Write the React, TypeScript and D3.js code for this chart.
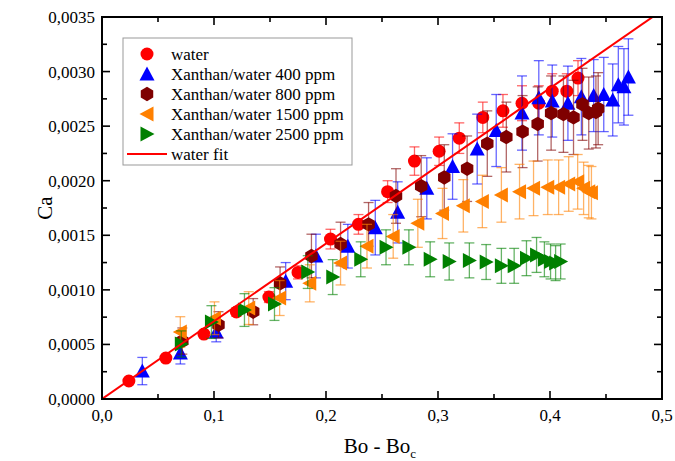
import React from 'react';
import * as d3 from 'd3';

// Ca vs Bo - Bo_c, water and xanthan solutions
const waterX = [0.024, 0.057, 0.091, 0.12, 0.149, 0.175, 0.204, 0.229, 0.255, 0.279, 0.301, 0.319, 0.34, 0.358, 0.375, 0.39, 0.402, 0.415, 0.425];
const waterY = [0.000165, 0.000375, 0.000595, 0.000797, 0.000934, 0.00116, 0.001465, 0.0016, 0.0019, 0.00218, 0.00227, 0.00239, 0.00258, 0.00264, 0.00271, 0.00271, 0.00282, 0.00282, 0.00294];
const waterErr = [0.00002, 0.00002, 0.00003, 0.00004, 0.00005, 0.00006, 0.00009, 0.00009, 0.0001, 0.00013, 0.00013, 0.00014, 0.00014, 0.00015, 0.00016, 0.00016, 0.00016, 0.00016, 0.00016];

const x400 = [0.036, 0.07, 0.102, 0.164, 0.191, 0.2195, 0.244, 0.264, 0.29, 0.313, 0.335, 0.352, 0.375, 0.39, 0.402, 0.416, 0.428, 0.439, 0.448, 0.456, 0.461, 0.466, 0.47];
const y400 = [0.000256, 0.000421, 0.000614, 0.00108, 0.00131, 0.0014, 0.00157, 0.00171, 0.00193, 0.00213, 0.00229, 0.00246, 0.00262, 0.00276, 0.00273, 0.00271, 0.00277, 0.00278, 0.00279, 0.00274, 0.00288, 0.00286, 0.00295];
const err400 = [0.000125, 0.0001, 0.00009, 0.00017, 0.0002, 0.0002, 0.00025, 0.00028, 0.00028, 0.0003, 0.00032, 0.00033, 0.00034, 0.00034, 0.00033, 0.00034, 0.00035, 0.00033, 0.00034, 0.00033, 0.00035, 0.00035, 0.00035];

const x800 = [0.0717, 0.104, 0.135, 0.159, 0.187, 0.213, 0.238, 0.2625, 0.285, 0.3056, 0.326, 0.344, 0.361, 0.3755, 0.389, 0.401, 0.412, 0.421, 0.429, 0.4346, 0.441, 0.443];
const y800 = [0.000531, 0.00068, 0.0008, 0.00106, 0.00131, 0.00142, 0.0016, 0.00186, 0.00195, 0.00203, 0.00211, 0.00234, 0.0024, 0.00245, 0.00252, 0.00262, 0.00261, 0.00258, 0.0027, 0.00262, 0.00263, 0.00266];
const err800 = [0.00012, 0.00012, 0.00012, 0.00015, 0.0002, 0.0002, 0.0002, 0.00025, 0.00028, 0.0003, 0.0003, 0.0003, 0.00032, 0.00033, 0.00034, 0.00034, 0.00035, 0.00034, 0.00033, 0.00033, 0.00033, 0.00033];

const x1500 = [0.0699, 0.1004, 0.131, 0.1586, 0.1855, 0.213, 0.2366, 0.26, 0.282, 0.304, 0.3226, 0.3396, 0.3566, 0.3728, 0.3853, 0.398, 0.4077, 0.4167, 0.4247, 0.43, 0.4346, 0.437];
const y1500 = [0.000614, 0.00074, 0.000833, 0.000925, 0.00106, 0.001245, 0.0014, 0.00149, 0.00161, 0.0017, 0.00177, 0.00181, 0.00187, 0.0019, 0.00193, 0.00194, 0.00194, 0.00197, 0.00199, 0.00193, 0.0019, 0.00189];
const err1500 = [0.00014, 0.00015, 0.00015, 0.00016, 0.00017, 0.0002, 0.0002, 0.0002, 0.00022, 0.00023, 0.00024, 0.00024, 0.00025, 0.00025, 0.00025, 0.00025, 0.00025, 0.00025, 0.00025, 0.00024, 0.00024, 0.00024];

const x2500 = [0.0708, 0.0977, 0.1272, 0.154, 0.1837, 0.206, 0.231, 0.2536, 0.274, 0.293, 0.31, 0.328, 0.343, 0.3566, 0.368, 0.379, 0.388, 0.395, 0.4005, 0.405, 0.4095];
const y2500 = [0.000504, 0.000705, 0.000815, 0.00087, 0.001163, 0.001117, 0.00128, 0.00139, 0.00139, 0.00128, 0.00126, 0.00127, 0.001255, 0.00122, 0.00122, 0.00129, 0.00132, 0.00128, 0.00126, 0.001245, 0.00126];
const err2500 = [0.00012, 0.00015, 0.00015, 0.00015, 0.00015, 0.00016, 0.00016, 0.00016, 0.00016, 0.00016, 0.00017, 0.00016, 0.00016, 0.00016, 0.00016, 0.00016, 0.00016, 0.00016, 0.00016, 0.00016, 0.00016];

const fitSlope = 0.00712;

const xTicks = [0, 0.1, 0.2, 0.3, 0.4, 0.5];
const yTicks = [0, 0.0005, 0.001, 0.0015, 0.002, 0.0025, 0.003, 0.0035];

const width = 675;
const height = 461;
const margin = {top: 17, right: 13, bottom: 62, left: 102};
const font = "'Liberation Serif', 'DejaVu Serif', serif";

const x = d3.scaleLinear().domain([0, 0.5]).range([margin.left, width - margin.right]);
const y = d3.scaleLinear().domain([0, 0.0035]).range([height - margin.bottom, margin.top]);

type Shape = 'circle' | 'up' | 'hex' | 'left' | 'right';

function markerPath(shape: Shape, cx: number, cy: number) {
    if (shape === 'circle') {
        const r = 6.5;
        return `M${cx - r},${cy}a${r},${r} 0 1,0 ${2 * r},0a${r},${r} 0 1,0 ${-2 * r},0Z`;
    }
    if (shape === 'hex') {
        const r = 7.2;
        const pts = d3.range(6).map((i) => {
            const a = Math.PI / 2 + (i * Math.PI) / 3;
            return [cx + r * Math.cos(a), cy - r * Math.sin(a)];
        });
        return 'M' + pts.map((p) => p.join(',')).join('L') + 'Z';
    }
    const s = 7.5;
    const h = 6.5;
    if (shape === 'up') return `M${cx},${cy - s}L${cx + s},${cy + h}L${cx - s},${cy + h}Z`;
    if (shape === 'left') return `M${cx - s},${cy}L${cx + h},${cy - s}L${cx + h},${cy + s}Z`;
    return `M${cx + s},${cy}L${cx - h},${cy - s}L${cx - h},${cy + s}Z`;
}

const series = [
    {label: 'water', color: '#ff0000', shape: 'circle' as Shape, xs: waterX, ys: waterY, errs: waterErr},
    {label: 'Xanthan/water 400 ppm', color: '#0000ff', shape: 'up' as Shape, xs: x400, ys: y400, errs: err400},
    {label: 'Xanthan/water 800 ppm', color: '#7f0000', shape: 'hex' as Shape, xs: x800, ys: y800, errs: err800},
    {label: 'Xanthan/water 1500 ppm', color: '#ff8000', shape: 'left' as Shape, xs: x1500, ys: y1500, errs: err1500},
    {label: 'Xanthan/water 2500 ppm', color: '#008000', shape: 'right' as Shape, xs: x2500, ys: y2500, errs: err2500},
];

const fmt = (v: number, d: number) => v.toFixed(d).replace('.', ',');

export default function App() {
    const x0 = margin.left;
    const x1 = width - margin.right;
    const y0 = height - margin.bottom;
    const y1 = margin.top;

    const xMinor = d3.range(0, 0.5001, 0.05);
    const yMinor = d3.range(0, 0.00351, 0.00025);

    const fitLine = d3.line<number>().x((d) => x(d)).y((d) => y(d * fitSlope));

    return (
        <svg width={width} height={height}
             style={{position: 'absolute', left: 0, top: 0, background: '#fff', fontFamily: font}}>
            <defs>
                <clipPath id="plot-clip">
                    <rect x={x0} y={y1} width={x1 - x0} height={y0 - y1}/>
                </clipPath>
            </defs>

            <g clipPath="url(#plot-clip)">
                {series.map((s) => (
                    <g key={s.label}>
                        {s.xs.map((xv, i) => {
                            const cx = x(xv);
                            const top = y(s.ys[i] + s.errs[i]);
                            const bot = y(s.ys[i] - s.errs[i]);
                            return (
                                <g key={i} stroke={s.color} strokeWidth={1.3} strokeOpacity={0.6}>
                                    <line x1={cx} x2={cx} y1={top} y2={bot}/>
                                    <line x1={cx - 5} x2={cx + 5} y1={top} y2={top}/>
                                    <line x1={cx - 5} x2={cx + 5} y1={bot} y2={bot}/>
                                </g>
                            );
                        })}
                        {s.xs.map((xv, i) => (
                            <path key={'m' + i} d={markerPath(s.shape, x(xv), y(s.ys[i]))} fill={s.color}/>
                        ))}
                    </g>
                ))}
                <path d={fitLine([0, 0.5]) || ''} stroke="#ff0000" strokeWidth={2} fill="none"/>
            </g>

            {/* frame */}
            <rect x={x0} y={y1} width={x1 - x0} height={y0 - y1} fill="none" stroke="#000" strokeWidth={2}/>

            {/* ticks, inward on all sides */}
            <g stroke="#000" strokeWidth={1.6}>
                {xMinor.map((v, i) => {
                    const len = i % 2 === 0 ? 8 : 5;
                    return (
                        <g key={'xt' + i}>
                            <line x1={x(v)} x2={x(v)} y1={y0} y2={y0 - len}/>
                            <line x1={x(v)} x2={x(v)} y1={y1} y2={y1 + len}/>
                        </g>
                    );
                })}
                {yMinor.map((v, i) => {
                    const len = i % 2 === 0 ? 8 : 5;
                    return (
                        <g key={'yt' + i}>
                            <line x1={x0} x2={x0 + len} y1={y(v)} y2={y(v)}/>
                            <line x1={x1} x2={x1 - len} y1={y(v)} y2={y(v)}/>
                        </g>
                    );
                })}
            </g>

            {/* tick labels */}
            <g fill="#000" style={{fontSize: 17}}>
                {xTicks.map((v) => (
                    <text key={'xl' + v} x={x(v)} y={y0 + 22} textAnchor="middle">{fmt(v, 1)}</text>
                ))}
                {yTicks.map((v) => (
                    <text key={'yl' + v} x={x0 - 7} y={y(v)} dy="0.35em" textAnchor="end">{fmt(v, 4)}</text>
                ))}
            </g>

            {/* axis titles */}
            <text x={380} y={453} textAnchor="middle" style={{fontSize: 21}}>
                Bo - Bo<tspan style={{fontSize: 13}} dy={5}>c</tspan>
            </text>
            <text transform={`translate(52, ${(y0 + y1) / 2}) rotate(-90)`} textAnchor="middle"
                  style={{fontSize: 21}}>Ca</text>

            {/* legend */}
            <g>
                <rect x={123} y={38} width={229} height={127} fill="#fff" stroke="#999" strokeWidth={1}/>
                {series.map((s, i) => {
                    const ly = 54 + i * 20;
                    return (
                        <g key={'lg' + i}>
                            <path d={markerPath(s.shape, 147, ly)} fill={s.color}/>
                            <text x={171} y={ly} dy="0.33em" style={{fontSize: 17}}>{s.label}</text>
                        </g>
                    );
                })}
                <line x1={127} x2={167} y1={154} y2={154} stroke="#ff0000" strokeWidth={2}/>
                <text x={171} y={154} dy="0.33em" style={{fontSize: 17}}>water fit</text>
            </g>
        </svg>
    );
}
